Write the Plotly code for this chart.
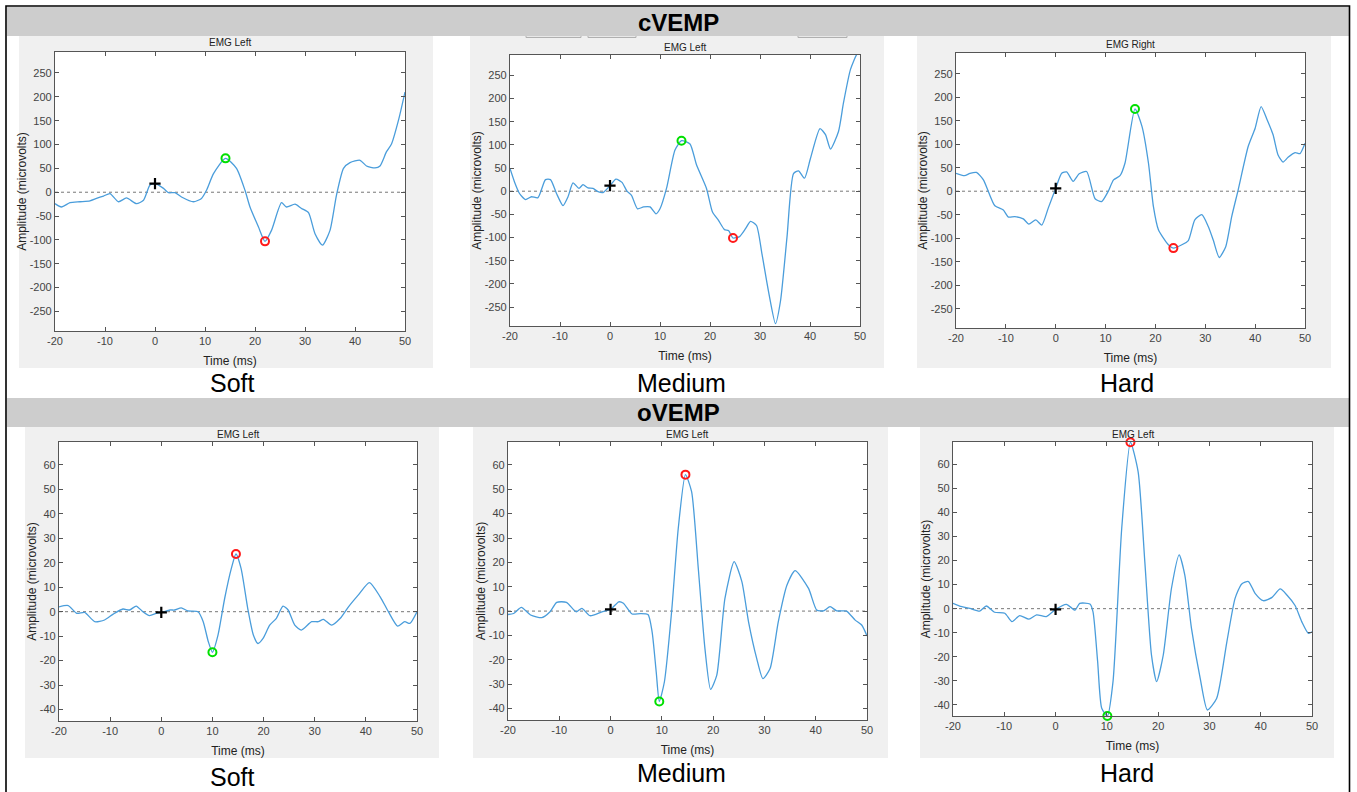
import plotly.graph_objects as go

W, H = 1357, 792

# ---------------- data ----------------
time_ticks = [-20, -10, 0, 10, 20, 30, 40, 50]
c_ticks = [-250, -200, -150, -100, -50, 0, 50, 100, 150, 200, 250]
o_ticks = [-40, -30, -20, -10, 0, 10, 20, 30, 40, 50, 60]

c_soft_t = [-20, -18.7, -17, -15, -13, -11.7, -10.3, -9, -7.3, -5.7, -3.7, -2.3, -1, 0, 1.7, 2.7, 4, 5.3, 7.7, 9.3,
            10.3, 11.7, 14.1, 16.3, 18, 19, 20.7, 22, 23.3, 25.3, 26.3, 28, 29.3, 30.7, 32, 33.5, 35, 36.3, 37.7, 39,
            41, 42.3, 44, 45, 46.3, 47.3, 48.7, 50]
c_soft_v = [-24, -31, -22, -20, -18, -13, -8, -3, -20, -12, -24, -17, 15, 18, 8, -1, -1, -10, -20, -13,
            4, 39, 71, 50, 4, -31, -73, -103, -80, -22, -31, -25, -34, -43, -87, -111, -80, -6, 50, 62,
            67, 55, 51, 55, 85, 101, 151, 210]

c_med_t = [-20, -19.1, -18.1, -16.9, -15.7, -14.4, -12.9, -11.9, -10.7, -9.4, -8.4, -7.4, -6.2, -5.4, -4.4, -3.4,
           -2.4, -1.4, 0, 1.2, 2.4, 3.4, 4.3, 5.5, 6.7, 8, 9.2, 10, 11.3, 13, 14.3, 16, 17.3, 19.3, 20.5, 21.7,
           22.9, 23.7, 24.6, 25.9, 27.1, 28.1, 29.3, 30.4, 31.8, 33.1, 34.1, 35.4, 36.7, 37.7, 38.9, 40.1, 42,
           43.1, 44.1, 45.7, 46.7, 48.1, 49.4, 50]
c_med_v = [49, 20, -5, -18, -12, -14, 25, 25, -5, -31, -12, 18, 6, 14, 7, 6,
           -1, -3, 12, 26, 19, 0, -9, -38, -34, -34, -49, -38, 6, 89, 109, 102, 57, 6, -45, -63,
           -83, -85, -101, -98, -81, -65, -74, -136, -222, -286, -237, -99, 38, 44, 28, 71, 135,
           122, 91, 129, 191, 263, 296, 300]

c_hard_t = [-20, -18.3, -17.2, -15.9, -14.5, -13.5, -12.2, -10.5, -9.5, -8.2, -6.5, -5.4, -4, -2.8, -1.5, 0,
            1.2, 2.2, 3.5, 4.7, 6.2, 7.9, 9.2, 10.5, 11.6, 12.9, 13.9, 15.9, 17.3, 18.6, 19.6, 20.6, 22.6, 23.6,
            25.3, 26.6, 27.9, 29.3, 30.6, 31.6, 32.8, 34.1, 35.3, 36.6, 38.6, 40, 41.2, 42.4, 43.6, 44.6, 45.6,
            46.6, 48, 49, 50]
c_hard_v = [38, 33, 38, 40, 24, -1, -31, -40, -55, -54, -59, -70, -61, -72, -36, 6,
            38, 41, 21, 37, 42, -16, -22, -1, 24, 33, 60, 175, 138, 60, -33, -82, -114, -121,
            -114, -105, -61, -50, -75, -104, -141, -118, -54, 3, 95, 134, 180, 152, 120, 77, 62,
            72, 82, 80, 102]

o_soft_t = [-20, -18.2, -16.5, -15, -13, -11.1, -9.4, -7.5, -6.2, -4.9, -3.6, -2.3, -1, 0, 1.7, 2.6, 3.9, 5.2,
            7.2, 8.2, 9.2, 10, 11.1, 12.4, 13.7, 14.6, 15.6, 16.9, 18, 18.9, 19.9, 21.2, 22.5, 23.8, 24.8, 26.1,
            27.4, 29.4, 30.7, 31.7, 33.3, 35, 36.6, 38.5, 40.7, 42.8, 44.4, 46.2, 47.6, 48.6, 50]
o_soft_v = [2, 2.5, -0.7, -0.3, -4.1, -3.4, -1, 1.1, 0.7, 2.3, 0, -1.6, -0.7, -0.3, 0.7, 0.7, 1.6, 0.3,
            0, -4.1, -12.3, -16.6, -9.5, 5.5, 17.7, 23.6, 17.7, 1.4, -9.5, -13, -10.9, -5.5, -2.7, 2.3, 0.7, -5.5,
            -7.5, -4.1, -4.1, -3.1, -5.5, -2.7, 2, 6.8, 11.9, 6.1, 0, -5.9, -4.1, -4.8, 0]

o_med_t = [-20, -18.9, -17.4, -15.6, -13.4, -11.8, -10.5, -8.6, -6.7, -5.6, -4, -1.7, 0, 1.6, 2.5, 4.2, 5.8,
           7.3, 8.1, 8.9, 9.5, 10.5, 11.9, 13.2, 14.6, 15.8, 17.1, 18.4, 19.5, 20.7, 22.3, 24.1, 25.6, 26.9,
           28.5, 29.7, 31.1, 32.7, 34.4, 36, 38.6, 40.2, 41.5, 42.8, 44.1, 46, 47.7, 49, 50]
o_med_v = [-1.4, -1, 1.5, -1.6, -2.7, -0.3, 3.6, 3.6, -0.3, 1.1, -1.9, -0.3, 0.7, 3.8, 3.2, -1.2, -1,
           -1.4, -8.5, -25, -37.1, -29, -0.3, 34, 56, 49, 17.6, -15.4, -32.1, -26.4, 5.2, 20.3, 12.1, -4.4,
           -19.5, -27.7, -23.6, -4.4, 10.7, 16.6, 9.3, 0.4, 0.1, 1.8, 0.1, 0, -3.7, -5.8, -10.2]

o_hard_t = [-20, -18.7, -16.7, -14.8, -13.5, -11.9, -9.9, -8.5, -7, -5.2, -3.7, -1.8, 0, 2.1, 3.8, 4.7, 6.7,
            7.3, 8.2, 9, 10.1, 11.2, 12.9, 14.6, 16.1, 17.4, 18.7, 19.7, 21, 22.6, 24.1, 25.2, 26.5, 28.2, 29.6,
            31.4, 33.4, 35, 36.3, 37.6, 38.9, 40.5, 42.2, 43.8, 45.1, 46.7, 48, 49.3, 50]
o_hard_v = [2.2, 1.1, 0.1, -1, 1.1, -1.5, -1.9, -5.4, -2.9, -4.4, -2.6, -3.3, -0.3, 1.8, -0.6, 2.2, 1.9,
            -1.3, -22, -41.5, -44.7, -30.4, 33.5, 69.3, 57, 19.6, -19.3, -30.4, -19.3, 8.5, 22.4, 14, -8.2, -29,
            -42.2, -37.4, -13.8, 4.3, 10.3, 11.3, 6.4, 3.3, 4.7, 8.2, 5.7, 1.3, -5.4, -10.3, -9.6]

# markers: onset (+), green circle, red circle
onset_t = [0, 0, 0, 0, 0, 0]
onset_v = [18, 12, 6, -0.3, 0.7, -0.3]
green_t = [14.1, 14.3, 15.9, 10.0, 9.5, 10.1]
green_v = [71, 109, 175, -16.6, -37.1, -44.7]
red_t = [22.0, 24.6, 23.6, 14.6, 14.6, 14.6]
red_v = [-103, -101, -121, 23.6, 56, 69.3]

panel_titles = ["EMG Left", "EMG Left", "EMG Right", "EMG Left", "EMG Left", "EMG Left"]
stim_labels = ["Soft", "Medium", "Hard", "Soft", "Medium", "Hard"]
section_titles = ["cVEMP", "oVEMP"]

series = [(c_soft_t, c_soft_v), (c_med_t, c_med_v), (c_hard_t, c_hard_v),
          (o_soft_t, o_soft_v), (o_med_t, o_med_v), (o_hard_t, o_hard_v)]

# ---------------- layout geometry (pixels) ----------------
plots_px = [(55, 405, 52, 331), (510, 860, 55, 326), (956, 1305, 53, 328),
            (59, 417, 442, 721), (508, 867, 442, 720), (953, 1312, 442, 716)]
bgs_px = [(19, 433, 36, 368), (470, 884, 36, 368), (917, 1331, 36, 368),
          (25, 439, 427, 758), (473, 888, 427, 758), (920, 1334, 427, 758)]
title_y = [43, 47, 45, 434, 434, 434]
label_pos = [(232, 383), (681, 383), (1127, 383), (232, 777), (681, 773), (1127, 773)]


def px(x):
    return x / W


def py(y):
    return 1 - y / H


FONT = "Liberation Sans, Arial, sans-serif"
LINE = "#4a9ddb"
AX = "#555555"

fig = go.Figure()
shapes = []
annotations = []

for (x0, x1, y0, y1) in bgs_px:
    shapes.append(dict(type="rect", xref="paper", yref="paper", x0=px(x0), x1=px(x1), y0=py(y1), y1=py(y0),
                       fillcolor="#f0f0f0", line=dict(width=0), layer="below"))
for (x0, x1, y0, y1) in plots_px:
    shapes.append(dict(type="rect", xref="paper", yref="paper", x0=px(x0), x1=px(x1), y0=py(y1), y1=py(y0),
                       fillcolor="white", line=dict(width=0), layer="below"))
for (x0, x1) in [(526, 581), (588, 636), (798, 847)]:
    shapes.append(dict(type="rect", xref="paper", yref="paper", x0=px(x0), x1=px(x1), y0=py(37.5), y1=py(30),
                       fillcolor="#e8e8e8", line=dict(color="#b0b0b0", width=1), layer="below"))
for (y0, y1) in [(7, 36), (398, 427)]:
    shapes.append(dict(type="rect", xref="paper", yref="paper", x0=px(7), x1=px(1349), y0=py(y1), y1=py(y0),
                       fillcolor="#cdcdcd", line=dict(width=0), layer="below"))
shapes.append(dict(type="rect", xref="paper", yref="paper", x0=px(6), x1=px(1349.5), y0=py(805), y1=py(6),
                   fillcolor="rgba(0,0,0,0)", line=dict(color="black", width=1.6), layer="above"))

for i in range(6):
    n = "" if i == 0 else str(i + 1)
    xa, ya = "x" + n, "y" + n
    x0, x1, y0, y1 = plots_px[i]
    is_c = i < 3
    t, v = series[i]
    fig.add_trace(go.Scatter(x=t, y=v, mode="lines",
                             line=dict(color=LINE, width=1.3, shape="spline", smoothing=0.6),
                             xaxis=xa, yaxis=ya, showlegend=False, hoverinfo="skip"))
    fig.add_trace(go.Scatter(x=[onset_t[i]], y=[onset_v[i]], mode="markers",
                             marker=dict(symbol="cross-thin", size=8, color="black",
                                         line=dict(color="black", width=2.2)),
                             xaxis=xa, yaxis=ya, showlegend=False, hoverinfo="skip", cliponaxis=False))
    fig.add_trace(go.Scatter(x=[green_t[i]], y=[green_v[i]], mode="markers",
                             marker=dict(symbol="circle-open", size=8, color="#00e000",
                                         line=dict(color="#00e000", width=2)),
                             xaxis=xa, yaxis=ya, showlegend=False, hoverinfo="skip", cliponaxis=False))
    fig.add_trace(go.Scatter(x=[red_t[i]], y=[red_v[i]], mode="markers",
                             marker=dict(symbol="circle-open", size=8, color="#ff1a1a",
                                         line=dict(color="#ff1a1a", width=2)),
                             xaxis=xa, yaxis=ya, showlegend=False, hoverinfo="skip", cliponaxis=False))

    yr = [-291, 294] if is_c else [-44.7, 69.4]
    yt = c_ticks if is_c else o_ticks
    axcommon = dict(showline=True, linecolor=AX, linewidth=1.2, mirror="allticks", ticks="inside", ticklen=4,
                    tickcolor=AX, tickwidth=1, showgrid=False, zeroline=False, automargin=False,
                    tickfont=dict(family=FONT, size=11, color="#444444"))
    fig.layout["xaxis" + n] = dict(domain=[px(x0), px(x1)], range=[-20, 50], tickvals=time_ticks,
                                   ticktext=[str(k) for k in time_ticks], anchor=ya,
                                   title=dict(text="Time (ms)", font=dict(family=FONT, size=12, color="#222222"),
                                              standoff=10), **axcommon)
    fig.layout["yaxis" + n] = dict(domain=[py(y1), py(y0)], range=yr, tickvals=yt,
                                   ticktext=[str(k) for k in yt], anchor=xa,
                                   title=dict(text="Amplitude (microvolts)",
                                              font=dict(family=FONT, size=12, color="#222222"), standoff=0),
                                   **axcommon)
    shapes.append(dict(type="line", xref=xa + " domain", yref=ya, x0=0, x1=1, y0=0, y1=0,
                       line=dict(color="#777777", width=1, dash="dot"), layer="below"))
    annotations.append(dict(text=panel_titles[i], xref="paper", yref="paper", x=px((x0 + x1) / 2),
                            y=py(title_y[i]), showarrow=False, font=dict(family=FONT, size=10, color="#222222"),
                            xanchor="center", yanchor="middle"))
    lx, ly = label_pos[i]
    annotations.append(dict(text=stim_labels[i], xref="paper", yref="paper", x=px(lx), y=py(ly),
                            showarrow=False, font=dict(family=FONT, size=25, color="black"),
                            xanchor="center", yanchor="middle"))

for txt, yy in zip(section_titles, [22, 412]):
    annotations.append(dict(text="<b>" + txt + "</b>", xref="paper", yref="paper", x=px(678), y=py(yy),
                            showarrow=False, font=dict(family=FONT, size=24, color="black"),
                            xanchor="center", yanchor="middle"))

fig.update_layout(width=W, height=H, margin=dict(l=0, r=0, t=0, b=0, autoexpand=False),
                  paper_bgcolor="white", plot_bgcolor="rgba(0,0,0,0)", shapes=shapes,
                  annotations=annotations, showlegend=False)

fig.write_html("out.html", config={"responsive": False, "displayModeBar": False},
               post_script="document.documentElement.style.overflow='hidden';"
                           "document.body.style.margin='0';document.body.style.overflow='hidden';")
